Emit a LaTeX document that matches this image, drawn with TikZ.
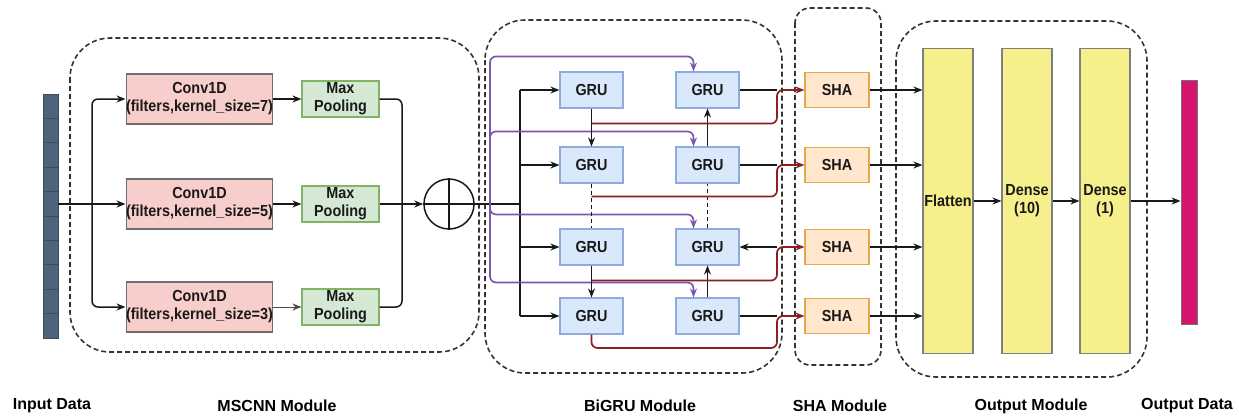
\documentclass[tikz,border=0pt]{standalone}
\usepackage{fontspec}
\setmainfont{Liberation Sans}
\newfontfamily\boxfont{Liberation Sans}[FakeStretch=0.9]
\usetikzlibrary{arrows.meta,calc}
\definecolor{convfill}{HTML}{F8CECC}
\definecolor{convdraw}{HTML}{6E6E6E}
\definecolor{poolfill}{HTML}{D5E8D4}
\definecolor{pooldraw}{HTML}{82B366}
\definecolor{grufill}{HTML}{DAE8FC}
\definecolor{grudraw}{HTML}{8FAADC}
\definecolor{shafill}{HTML}{FFE6CC}
\definecolor{shadraw}{HTML}{E3A94B}
\definecolor{densefill}{HTML}{F5F08C}
\definecolor{densedraw}{HTML}{7F7F7F}
\definecolor{inbarc}{HTML}{4E647A}
\definecolor{inlinec}{HTML}{3A4B5D}
\definecolor{outbarc}{HTML}{D5166E}
\definecolor{purp}{HTML}{7B55B0}
\definecolor{dred}{HTML}{8B2020}
\tikzset{
  box/.style={draw, line width=1.1pt, align=center, inner sep=0pt, text=black!90,
    font=\boxfont\bfseries\fontsize{16}{18}\selectfont},
  conv/.style={box, fill=convfill, draw=convdraw, minimum width=143pt, minimum height=50pt},
  pool/.style={box, fill=poolfill, draw=pooldraw, minimum width=77pt, minimum height=36pt},
  gru/.style={box, fill=grufill, draw=grudraw, minimum width=63pt, minimum height=36pt},
  sha/.style={box, fill=shafill, draw=shadraw, minimum width=64pt, minimum height=35pt},
  dense/.style={box, fill=densefill, draw=densedraw, minimum width=50pt, minimum height=305pt},
  modbox/.style={draw=black!80, line width=1.6pt, dash pattern=on 5pt off 3pt, rounded corners=40pt},
  lab/.style={font=\bfseries\fontsize{16}{18}\selectfont, text=black},
  ln/.style={draw=black!90, line width=1.5pt},
  arr/.style={ln, -{Stealth[length=9pt,width=7pt]}},
  parr/.style={draw=purp, line width=1.7pt, -{Stealth[length=9pt,width=7pt]}, rounded corners=6pt},
  rarr/.style={draw=dred, line width=1.7pt, -{Stealth[length=9pt,width=7pt]}, rounded corners=6pt},
}
\begin{document}
\begin{tikzpicture}[x=1pt,y=-1pt]
\useasboundingbox (0,0) rectangle (1239,418);
% module frames
\draw[modbox] (70,38) rectangle (479,352);
\draw[modbox] (485,20) rectangle (782,373);
\draw[modbox, rounded corners=15pt] (795,8) rectangle (881,365);
\draw[modbox] (896,21) rectangle (1147,377);

% input bar
\node[draw=inlinec, fill=inbarc, line width=0.6pt, minimum width=15pt, minimum height=244pt, inner sep=0pt] (inp) at (50.5,216) {};
\foreach \k in {1,...,9} \draw[inlinec, line width=0.7pt] (43,{94+24.4*\k}) -- (58,{94+24.4*\k});
% output bar
\node[draw=black!55, fill=outbarc, line width=0.8pt, minimum width=16pt, minimum height=244pt, inner sep=0pt] (outp) at (1189,202) {};

% MSCNN
\node[conv] (conv1) at (199.5,99) {Conv1D\\(filters,kernel\_size=7)};
\node[conv] (conv2) at (199.5,204) {Conv1D\\(filters,kernel\_size=5)};
\node[conv] (conv3) at (199.5,307) {Conv1D\\(filters,kernel\_size=3)};
\node[pool] (pool1) at (340.5,99) {Max\\Pooling};
\node[pool] (pool2) at (340.5,204) {Max\\Pooling};
\node[pool] (pool3) at (340.5,307) {Max\\Pooling};
\node[circle, draw=black!90, line width=1.5pt, minimum size=50pt, inner sep=0pt] (circ) at (449,204) {};
\draw[ln] (circ.north) -- (circ.south);
\draw[ln] (circ.west) -- (circ.east);

\coordinate (j1) at (92,204);
\draw[ln] (inp.east |- j1) -- (j1);
\draw[arr, rounded corners=6pt] (j1) |- (conv1.west);
\draw[arr, rounded corners=6pt] (j1) |- (conv3.west);
\draw[arr] (j1) -- (conv2.west);
\draw[arr] (conv1.east) -- (pool1.west);
\draw[arr] (conv2.east) -- (pool2.west);
\draw[arr, line width=1pt, draw=black!70] (conv3.east) -- (pool3.west);
\coordinate (j2) at (402,204);
\draw[ln, rounded corners=6pt] (pool1.east) -| (j2);
\draw[ln, rounded corners=6pt] (pool3.east) -| (j2);
\draw[arr] (pool2.east) -- (circ.west);

% BiGRU
\node[gru] (gl1) at (591.5,90) {GRU};
\node[gru] (gl2) at (591.5,165) {GRU};
\node[gru] (gl3) at (591.5,247) {GRU};
\node[gru] (gl4) at (591.5,316) {GRU};
\node[gru] (gr1) at (707.5,90) {GRU};
\node[gru] (gr2) at (707.5,165) {GRU};
\node[gru] (gr3) at (707.5,247) {GRU};
\node[gru] (gr4) at (707.5,316) {GRU};

\coordinate (j3) at (520,204);
\coordinate (pv) at (490,204);
\draw[ln] (circ.east) -- (j3);
\draw[ln] (j3 |- gl1) -- (j3 |- gl4);
\draw[arr] (j3 |- gl1) -- (gl1.west);
\draw[arr] (j3 |- gl2) -- (gl2.west);
\draw[arr] (j3 |- gl3) -- (gl3.west);
\draw[arr] (j3 |- gl4) -- (gl4.west);

\draw[parr] (pv) |- ([xshift=-14pt,yshift=15pt]gr1.north) -- ([xshift=-14pt]gr1.north);
\draw[parr] (pv) |- ([xshift=-14pt,yshift=15pt]gr2.north) -- ([xshift=-14pt]gr2.north);
\draw[parr] (pv) |- ([xshift=-14pt,yshift=14pt]gr3.north) -- ([xshift=-14pt]gr3.north);
\draw[parr] (pv) |- ([xshift=-14pt,yshift=15pt]gr4.north) -- ([xshift=-14pt]gr4.north);

\draw[arr] (gl1.south) -- (gl2.north);
\draw[ln, dash pattern=on 4pt off 3pt] (gl2.south) -- (gl3.north);
\draw[arr] (gl3.south) -- (gl4.north);
\draw[arr] (gr2.north) -- (gr1.south);
\draw[ln, dash pattern=on 4pt off 3pt] (gr3.north) -- (gr2.south);
\draw[arr] (gr4.north) -- (gr3.south);

% SHA
\node[sha] (sha1) at (837,90) {SHA};
\node[sha] (sha2) at (837,165) {SHA};
\node[sha] (sha3) at (837,247) {SHA};
\node[sha] (sha4) at (837,316) {SHA};

\coordinate (c1) at (777,90);
\coordinate (c2) at (777,165);
\coordinate (c3) at (777,247);
\coordinate (c4) at (777,316);
\coordinate (b4) at (777,348);
\draw[ln] (gr1.east) -- (c1);
\draw[ln] (gr2.east) -- (c2);
\draw[arr] (c3) -- (gr3.east);
\draw[ln] (gr4.east) -- (c4);
\draw[rarr] ([yshift=-15pt]gl1.south) -| (c1) -- (sha1.west);
\draw[rarr] ([yshift=-13pt]gl2.south) -| (c2) -- (sha2.west);
\draw[rarr] ([yshift=-15pt]gl3.south) -| (c3) -- (sha3.west);
\draw[rarr] (gl4.south) |- (b4) |- (sha4.west);

% Output module
\node[dense] (flat) at (948,201) {Flatten};
\node[dense] (d10) at (1027,201) {Dense\\(10)};
\node[dense] (d1) at (1105,201) {Dense\\(1)};
\draw[arr] (sha1.east) -- (flat.west |- sha1.east);
\draw[arr] (sha2.east) -- (flat.west |- sha2.east);
\draw[arr] (sha3.east) -- (flat.west |- sha3.east);
\draw[arr] (sha4.east) -- (flat.west |- sha4.east);
\draw[arr] (flat.east) -- (d10.west);
\draw[arr] (d10.east) -- (d1.west);
\draw[arr] (d1.east) -- (d1.east -| outp.west);

% labels
\node[lab] (l1) at (52,406) {Input Data};
\node[lab] (l2) at (277,406) {MSCNN Module};
\node[lab] (l3) at (640,406) {BiGRU Module};
\node[lab] (l4) at (840,406) {SHA Module};
\node[lab] (l5) at (1031,406) {Output Module};
\node[lab] (l6) at (1187,406) {Output Data};
\end{tikzpicture}
\end{document}
